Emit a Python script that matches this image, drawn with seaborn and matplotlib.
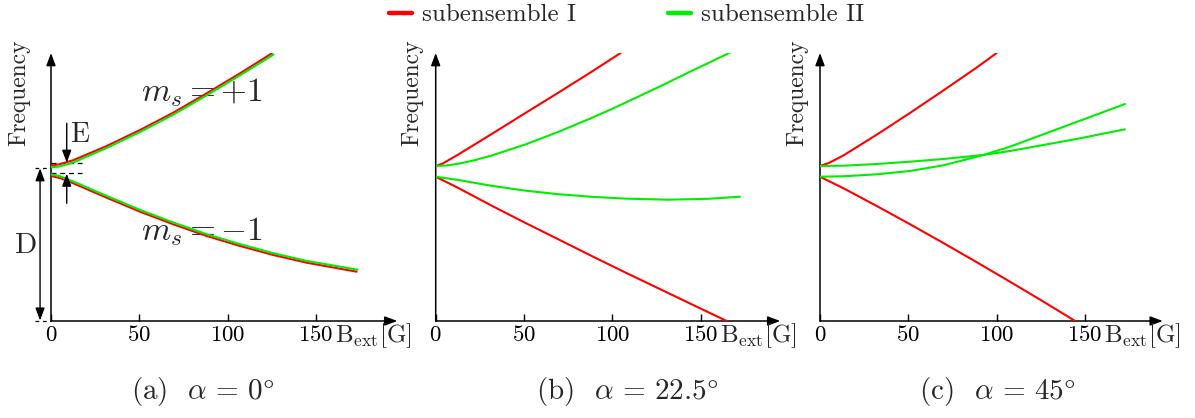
import pandas as pd
import matplotlib
import matplotlib.pyplot as plt
from matplotlib.lines import Line2D
import seaborn as sb

# B in gauss, frequency in arbitrary units (0 = x-axis)
# (a) alpha = 0
a_up_red_B = [0, 5, 12.6, 31.5, 50.4, 69.2, 88.1, 107, 125]
a_up_red_F = [155.5, 156.8, 160.8, 175, 191, 208.3, 227.7, 247.7, 267.7]
a_up_grn_B = [0, 5, 12.6, 31.5, 50.4, 69.2, 88.1, 107, 126]
a_up_grn_F = [153.5, 154.6, 158.5, 173, 189, 206.3, 225.7, 245.7, 266.5]
a_lo_red_B = [0, 5, 12.6, 31.5, 50.4, 69.2, 88.1, 107, 125.8, 144.7, 173]
a_lo_red_F = [145, 143, 137.7, 123.3, 109.3, 96.7, 85, 75, 66, 58.3, 49.3]
a_lo_grn_B = [0, 5, 12.6, 31.5, 50.4, 69.2, 88.1, 107, 125.8, 144.7, 173.5]
a_lo_grn_F = [146.7, 144.8, 139.5, 125.1, 111.1, 98.5, 86.8, 76.8, 67.8, 60.1, 51.3]

# (b) alpha = 22.5
b_up_red_B = [0, 4, 12.8, 31.7, 50.5, 69.4, 88.3, 104.9]
b_up_red_F = [155, 157.5, 166.5, 187, 207.7, 228.3, 249.3, 268.3]
b_up_grn_B = [0, 6, 12.8, 22, 31.7, 50.5, 69.4, 88.3, 99.6, 126, 144.9, 166.7]
b_up_grn_F = [155, 155.5, 157.2, 160.8, 165.5, 176.4, 189.1, 203.1, 211.9, 233.8, 250.1, 268.5]
b_lo_grn_B = [0, 12.8, 31.7, 50.5, 69.4, 88.3, 107.1, 131.6, 154.3, 172.2]
b_lo_grn_F = [144.3, 141, 135.2, 130.4, 126.8, 124.2, 122.4, 121.3, 122.2, 124.3]
b_lo_red_B = [0, 12.8, 31.7, 50.5, 69.4, 88.3, 107.1, 126, 149.6, 164.7]
b_lo_red_F = [144.3, 133, 115.3, 98.3, 81.7, 65, 48.7, 32.7, 12.7, 0]

# (c) alpha = 45
c_up_red_B = [0, 5, 13.2, 32.1, 50.9, 69.8, 88.7, 100]
c_up_red_F = [155, 158, 165.5, 186.3, 208, 230.5, 253.5, 268]
c_lo_red_B = [0, 13.2, 32.1, 50.9, 69.8, 88.7, 107.5, 126.4, 144.4]
c_lo_red_F = [144.3, 132.8, 115, 96.8, 78, 58.8, 39.3, 19.4, 0]
c_grn_B = [0, 13.2, 32.1, 50.9, 69.8, 80, 92.4, 107.5, 126.4, 145.2, 172.6]
c_grn1_F = [155, 155.3, 157, 159.3, 162, 163.8, 166, 170, 176, 182, 191.7]
c_grn2_F = [144.3, 144.7, 146.7, 150, 155.7, 160.3, 166, 174.3, 186.7, 199, 217]

ticks = [0, 50, 100, 150]
captions = [r'(a)  $\alpha\,=\,0\degree$', r'(b)  $\alpha\,=\,22.5\degree$', r'(c)  $\alpha\,=\,45\degree$']
legend_labels = ['subensemble I', 'subensemble II']

RED = '#ff0000'
GREEN = '#00ee00'

sb.set_style('white')
plt.rcParams['font.family'] = ['cmr10', 'DejaVu Serif']
plt.rcParams['mathtext.fontset'] = 'cm'
plt.rcParams['axes.formatter.use_mathtext'] = True

W, H = 1195, 418
PX = 1.767  # pixels per gauss
fig = plt.figure(figsize=(W / 100, H / 100), dpi=100)


def make_panel(x0, xmax, lab_dx):
    ax = fig.add_axes([x0 / W, 97 / H, xmax * PX / W, 268 / H])
    ax.set_xlim(0, xmax)
    ax.set_ylim(0, 268)
    for s in ax.spines.values():
        s.set_visible(False)
    ax.set_facecolor('none')
    arrow = dict(arrowstyle='-|>,head_length=0.75,head_width=0.28', color='black',
                 lw=1.1, shrinkA=0, shrinkB=0, mutation_scale=10)
    ax.annotate('', xy=(1, 0), xytext=(0, 0), xycoords='axes fraction', arrowprops=arrow)
    ax.annotate('', xy=(0, 1), xytext=(0, 0), xycoords='axes fraction', arrowprops=arrow)
    ax.set_xticks(ticks)
    ax.set_yticks([])
    ax.tick_params(axis='x', direction='in', length=5, width=1, pad=3, labelsize=16.5,
                   bottom=True, colors='black')
    ax.set_ylabel('Frequency', fontsize=17, rotation=90, ha='center', va='center')
    ax.yaxis.set_label_coords(lab_dx / (xmax * PX), (321 - 93) / 268)
    ax.text(160.7, -21.5, r'B$_{\mathrm{ext}}$[G]', fontsize=18, ha='left', va='baseline',
            clip_on=False)
    return ax


def curve(ax, B, F, color):
    df = pd.DataFrame({'B': B, 'F': F})
    sb.lineplot(data=df, x='B', y='F', ax=ax, color=color, lw=1.5, sort=False,
                estimator=None, zorder=3)
    ax.set_xlabel('')


# panel (a)
ax1 = make_panel(51, 196, -32)
curve(ax1, a_up_red_B, a_up_red_F, RED)
curve(ax1, a_up_grn_B, a_up_grn_F, GREEN)
curve(ax1, a_lo_red_B, a_lo_red_F, RED)
curve(ax1, a_lo_grn_B, a_lo_grn_F, GREEN)
ax1.text(85.5, 228, r'$m_s = {+}1$', fontsize=24, ha='center', va='center', zorder=1)
ax1.text(85.5, 89, r'$m_s = {-}1$', fontsize=24, ha='center', va='center', zorder=1)

# E splitting marks
ax1.plot([0, 17.5], [158, 158], color='black', lw=0.9, ls=(0, (4, 3)), clip_on=False)
ax1.plot([0, 17.5], [147.7, 147.7], color='black', lw=0.9, ls=(0, (4, 3)), clip_on=False)
small = dict(arrowstyle='-|>,head_length=0.75,head_width=0.28', color='black', lw=1,
             shrinkA=0, shrinkB=0, mutation_scale=10)
ax1.annotate('', xy=(8.9, 158.3), xytext=(8.9, 197.7), arrowprops=small, annotation_clip=False)
ax1.annotate('', xy=(8.9, 147.3), xytext=(8.9, 117.7), arrowprops=small, annotation_clip=False)
ax1.text(16, 186, 'E', fontsize=20, ha='center', va='center')

# D zero-field splitting mark
ax1.plot([-9, 0], [152.7, 152.7], color='black', lw=0.9, ls=(0, (3, 3)), clip_on=False)
ax1.plot([-9, 0], [0, 0], color='black', lw=0.9, ls=(0, (3, 3)), clip_on=False)
both = dict(arrowstyle='<|-|>,head_length=0.75,head_width=0.28', color='black', lw=1,
            shrinkA=0, shrinkB=0, mutation_scale=10)
ax1.annotate('', xy=(-6.2, 152.7), xytext=(-6.2, 0.5), arrowprops=both, annotation_clip=False)
ax1.text(-13.8, 75, 'D', fontsize=21, ha='center', va='center')

# panel (b)
ax2 = make_panel(435.7, 195, -23)
curve(ax2, b_up_red_B, b_up_red_F, RED)
curve(ax2, b_lo_red_B, b_lo_red_F, RED)
curve(ax2, b_up_grn_B, b_up_grn_F, GREEN)
curve(ax2, b_lo_grn_B, b_lo_grn_F, GREEN)

# panel (c)
ax3 = make_panel(820, 194, -22.5)
curve(ax3, c_up_red_B, c_up_red_F, RED)
curve(ax3, c_lo_red_B, c_lo_red_F, RED)
curve(ax3, c_grn_B, c_grn1_F, GREEN)
curve(ax3, c_grn_B, c_grn2_F, GREEN)

for xc, cap in zip([203, 627, 997], captions):
    fig.text(xc / W, 1 - 391 / H, cap, fontsize=21, ha='center', va='center')

handles = [Line2D([], [], color=RED, lw=3.2), Line2D([], [], color=GREEN, lw=3.2)]
fig.legend(handles, legend_labels, loc='center left', bbox_to_anchor=(389 / W, 1 - 15 / H),
           ncol=2, frameon=False, fontsize=18, handlelength=0.9, handletextpad=0.4,
           columnspacing=3.7, borderpad=0, borderaxespad=0)

fig.savefig('out.png', dpi=100, facecolor='white')
